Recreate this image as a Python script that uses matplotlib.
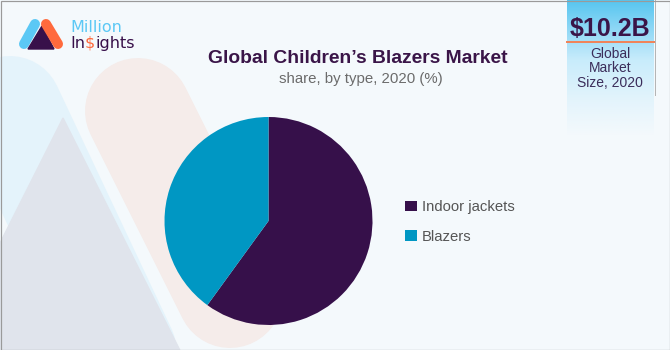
import numpy as np
import matplotlib.pyplot as plt
from matplotlib.patches import Polygon, Rectangle

plt.rcParams['font.family'] = ['Liberation Sans', 'DejaVu Sans']

# 各类型市场份额 (%)
segments = ['Indoor jackets', 'Blazers']
shares = [60, 40]
colors = ['#36104a', '#0097c3']

title = 'Global Children’s Blazers Market'
subtitle = 'share, by type, 2020 (%)'
market_size = '$10.2B'
market_note = ['Global', 'Market', 'Size, 2020']

W, H = 670, 350
fig = plt.figure(figsize=(W / 100, H / 100), dpi=100)
fig.patch.set_facecolor('#f4f9fc')

# 整张图的像素坐标底层
bg = fig.add_axes([0, 0, 1, 1])
bg.axis('off')
px = 0.72  # 1像素对应的磅数


def band(p0, p1, r, color, z=1):
    """圆角长条"""
    bg.plot([p0[0], p1[0]], [p0[1], p1[1]], color=color, lw=2 * r * px,
            solid_capstyle='round', zorder=z)


# 背景装饰图形
band((10, 108), (223, 560), 52, '#e4f3fb', 1)
bg.add_patch(Polygon([(63, 118), (215, 420), (-89, 420)], color='#e0e4ec', zorder=2))
band((138, 111), (230, 295), 53, '#f5ecea', 3)

# logo
band((24, 44), (35, 24), 5, '#5bc8f5', 5)
bg.add_patch(Polygon([(28, 49), (42, 26), (54, 49)], color='#38104a', zorder=6))
band((46, 24), (58, 44), 5, '#ff6a3d', 7)
bg.text(70, 31.5, 'Million', fontsize=11.5, color='#5bc8f5', family='DejaVu Sans',
        va='baseline', zorder=8)
renderer = fig.canvas.get_renderer()
x = 70
for part, c in [('In', '#38104a'), ('$', '#ff6a3d'), ('ights', '#38104a')]:
    t = bg.text(x, 48, part, fontsize=11.5, color=c, family='DejaVu Sans',
                va='baseline', parse_math=False, zorder=8)
    x += t.get_window_extent(renderer).width

# 右上角市场规模框
stops_y = [0, 42, 60, 100, 135]
stops_c = np.array([[0x56, 0xc5, 0xf0], [0xa8, 0xe0, 0xf8], [0xc8, 0xec, 0xfb],
                    [0xe3, 0xf4, 0xfc], [0xf4, 0xf9, 0xfc]]) / 255
ys = np.linspace(0, 135, 200)
grad = np.stack([np.interp(ys, stops_y, stops_c[:, k]) for k in range(3)], axis=1)
bg.imshow(grad[:, None, :], extent=(567, 654, 135, 0), aspect='auto', zorder=4)
bg.plot([567, 654], [42, 42], color='#f0845a', lw=2 * px, zorder=5)
bg.plot([654.5, 654.5], [0, 95], color='#b5b5b5', lw=1 * px, zorder=5)
bg.text(610, 36, market_size, fontsize=18, fontweight='bold', color='#3a1548',
        ha='center', va='baseline', parse_math=False, zorder=6)
for i, line in enumerate(market_note):
    bg.text(610, 58 + 14.5 * i, line, fontsize=10, color='#3b2d5a', ha='center',
            va='baseline', zorder=6)

# 标题
bg.text(358, 63, title, fontsize=13.9, fontweight='bold', color='#3a1548',
        ha='center', va='baseline', zorder=6)
bg.text(361, 83, subtitle, fontsize=10.8, color='#6b6b6b',
        ha='center', va='baseline', zorder=6)

# 外边框
bg.add_patch(Rectangle((0.5, 0.5), W - 1, H - 1, fill=False, edgecolor='#9a9a9a',
                       lw=1.2 * px, zorder=10))
bg.set_xlim(0, W)
bg.set_ylim(H, 0)

# 饼图
cx, cy, r = 268.5, 221, 104
pie_ax = fig.add_axes([(cx - r) / W, (H - cy - r) / H, 2 * r / W, 2 * r / H])
wedges, _ = pie_ax.pie(shares, colors=colors, startangle=90, counterclock=False,
                       radius=1)
pie_ax.set_xlim(-1, 1)
pie_ax.set_ylim(-1, 1)
pie_ax.axis('off')

fig.legend(wedges, segments, loc='center left', bbox_to_anchor=(398 / W, 1 - 222 / H),
           frameon=False, fontsize=10.7, handlelength=0.75, handleheight=0.75,
           handletextpad=0.35, labelspacing=1.05, borderpad=0, labelcolor='#555555')

fig.savefig('out.png', dpi=100, facecolor=fig.get_facecolor())
